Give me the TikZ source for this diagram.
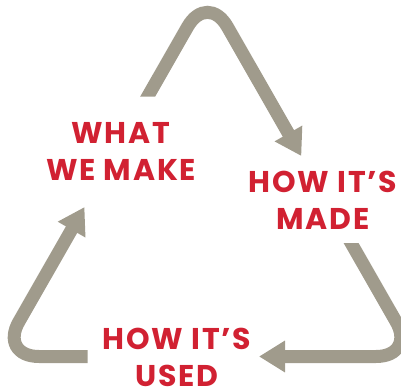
\documentclass[tikz,border=0pt]{standalone}
\usepackage{fontspec}
\usetikzlibrary{arrows.meta,calc}
\newfontfamily\cyclefont{Poppins}[LetterSpace=6]
\definecolor{cyclegray}{RGB}{160,155,140}
\definecolor{cyclered}{RGB}{209,33,50}

\begin{document}
\begin{tikzpicture}[x=1pt,y=-1pt]
\tikzset{flow/.style={draw=cyclegray,line width=13pt,rounded corners=40pt,
    -{Triangle[length=26pt,width=30pt]}},
  stage/.style={text=cyclered,align=center,inner sep=0pt,anchor=base,text depth=0pt,
    font=\cyclefont\bfseries\fontsize{30}{37}\selectfont}}
\useasboundingbox (0,0) rectangle (401,390);
\clip (0,0) rectangle (401,390);

\coordinate (L) at (-1,356.5);
\coordinate (R) at (416,356.5);
\coordinate (T) at (207.5,-8);

\coordinate (top start) at ($(L)!.69!(T)$);
\coordinate (top end) at ($(T)!.45!(R)$);
\coordinate (right start) at ($(T)!.66!(R)$);
\coordinate (right end) at (259,356.5);
\coordinate (left start) at (87.7,356.5);
\coordinate (left end) at ($(L)!.41!(T)$);

\begin{scope}
\clip (0,-20) -- (401,-20) -- (401,390) -- (180,390) -- (180,96.7) -- (0,96.7) -- cycle;
\draw[flow] (top start) -- (T) -- (top end);
\end{scope}
\begin{scope}
\clip (0,243.3) rectangle (401,390);
\draw[flow] (right start) -- (R) -- (right end);
\end{scope}
\draw[flow] (left start) -- (L) -- (left end);

\node[stage] (what) at (121,180.7) {WHAT\\WE MAKE};
\node[stage] (made) at (323,229) {HOW IT’S\\MADE};
\node[stage] (used) at (177,386) {HOW IT’S\\USED};
\end{tikzpicture}
\end{document}
